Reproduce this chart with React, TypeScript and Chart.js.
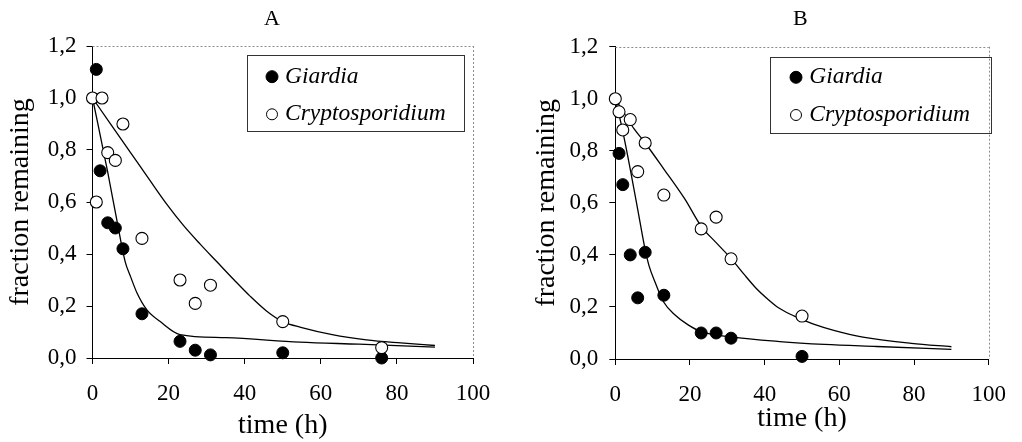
import React, { useEffect, useRef } from 'react';
import { Chart, registerables } from 'chart.js';

Chart.register(...registerables);

const SERIF = '"Liberation Serif", "Times New Roman", Times, serif';

// ---- shared axis data ----
const X_TICKS = [0, 20, 40, 60, 80, 100];
const Y_TICKS = [0, 0.2, 0.4, 0.6, 0.8, 1.0, 1.2];
const SERIES_NAMES = ['Giardia', 'Cryptosporidium'];
const X_TITLE = 'time (h)';
const Y_TITLE = 'fraction remaining';

// ---- Panel A measurements ----
const A_giardiaT = [1, 2, 4, 6, 8, 13, 23, 27, 31, 50, 76];
const A_giardiaV = [1.11, 0.72, 0.52, 0.5, 0.42, 0.17, 0.064, 0.03, 0.012, 0.02, 0.0];
const A_cryptoT = [0, 1, 2.5, 4, 6, 8, 13, 23, 27, 31, 50, 76];
const A_cryptoV = [1.0, 0.6, 1.0, 0.79, 0.76, 0.9, 0.46, 0.3, 0.21, 0.28, 0.14, 0.04];

// ---- Panel A fitted curves ----
const A_fitGiardiaT = [0, 4, 6.4, 8.6, 10, 11.7, 14.3, 17.8, 23, 35, 54.5, 70, 90];
const A_fitGiardiaV = [1.0, 0.715, 0.53, 0.37, 0.313, 0.25, 0.185, 0.14, 0.09, 0.078, 0.061, 0.053, 0.042];
const A_fitCryptoT = [0, 5, 10, 15, 19.6, 23.9, 28.3, 32.7, 37.1, 41.4, 45.8, 50, 55, 63, 72, 81, 90];
const A_fitCryptoV = [1.0, 0.895, 0.79, 0.685, 0.59, 0.51, 0.438, 0.37, 0.302, 0.238, 0.18, 0.14, 0.117, 0.09, 0.07, 0.058, 0.048];

// ---- Panel B measurements ----
const B_giardiaT = [1, 2, 4, 6, 8, 13, 23, 27, 31, 50];
const B_giardiaV = [0.79, 0.67, 0.4, 0.235, 0.41, 0.245, 0.1, 0.1, 0.08, 0.01];
const B_cryptoT = [0, 1, 2, 4, 6, 8, 13, 23, 27, 31, 50];
const B_cryptoV = [1.0, 0.95, 0.88, 0.92, 0.72, 0.83, 0.63, 0.5, 0.545, 0.385, 0.165];

// ---- Panel B fitted curves ----
const B_fitGiardiaT = [0, 2, 4, 6, 8, 9, 10.8, 12.9, 16, 19.5, 23, 31, 44, 56, 70, 90];
const B_fitGiardiaV = [1.0, 0.875, 0.73, 0.575, 0.42, 0.36, 0.29, 0.22, 0.169, 0.131, 0.105, 0.085, 0.067, 0.056, 0.048, 0.037];
const B_fitCryptoT = [0, 3, 5, 8, 13, 18.6, 23, 27, 31.2, 34.5, 37.7, 41, 43.7, 47, 50, 53.3, 58.5, 66.3, 79.3, 90];
const B_fitCryptoV = [1.0, 0.93, 0.885, 0.83, 0.73, 0.615, 0.51, 0.447, 0.383, 0.325, 0.272, 0.228, 0.197, 0.171, 0.152, 0.133, 0.11, 0.084, 0.06, 0.047];

const zip = (t: number[], v: number[]) => t.map((x, i) => ({ x, y: v[i] }));

const framePlugin = {
  id: 'paperFrame',
  beforeDatasetsDraw(chart: any) {
    const { ctx, chartArea } = chart;
    const { left, right, top, bottom } = chartArea;
    ctx.save();
    ctx.strokeStyle = '#8c8c8c';
    ctx.lineWidth = 1;
    ctx.setLineDash([2, 2]);
    ctx.beginPath();
    ctx.moveTo(left, Math.round(top) + 0.5);
    ctx.lineTo(right, Math.round(top) + 0.5);
    ctx.moveTo(Math.round(right) + 0.5, top);
    ctx.lineTo(Math.round(right) + 0.5, bottom);
    ctx.stroke();
    ctx.restore();
  },
};

const decorPlugin = {
  id: 'paperDecor',
  afterDraw(chart: any, _args: any, opts: any) {
    const { ctx } = chart;
    ctx.save();
    // panel letter
    ctx.fillStyle = '#000';
    ctx.font = `22px ${SERIF}`;
    ctx.textAlign = 'center';
    ctx.textBaseline = 'middle';
    ctx.fillText(opts.title, opts.titleX, opts.titleY);
    // legend box
    const [bx, by, bw, bh] = opts.box;
    ctx.strokeStyle = '#333';
    ctx.lineWidth = 1;
    ctx.strokeRect(Math.round(bx) + 0.5, Math.round(by) + 0.5, Math.round(bw), Math.round(bh));
    // legend items
    const items = [
      { name: SERIES_NAMES[0], fill: '#000', y: opts.rowY[0], r: 6 },
      { name: SERIES_NAMES[1], fill: '#fff', y: opts.rowY[1], r: 5.5 },
    ];
    ctx.font = `italic 23.5px ${SERIF}`;
    ctx.textAlign = 'left';
    for (const it of items) {
      ctx.beginPath();
      ctx.arc(opts.markerX, it.y, it.r, 0, Math.PI * 2);
      ctx.fillStyle = it.fill;
      ctx.fill();
      ctx.strokeStyle = '#000';
      ctx.lineWidth = 1;
      ctx.stroke();
      ctx.fillStyle = '#000';
      ctx.fillText(it.name, opts.textX, it.y);
    }
    ctx.restore();
  },
};

type PanelCfg = {
  giardiaT: number[]; giardiaV: number[]; cryptoT: number[]; cryptoV: number[];
  fitGT: number[]; fitGV: number[]; fitCT: number[]; fitCV: number[];
  padRight: number; padTop: number; yWidth: number; xHeight: number;
  yTitlePad: number; xTitlePad: number; yTickPad: number;
  title: string; titleX: number; titleY: number;
  box: number[]; markerX: number; textX: number; rowY: number[];
};

function buildConfig(p: PanelCfg): any {
  const lineStyle = {
    showLine: true, pointRadius: 0, borderColor: '#000', borderWidth: 1.3,
    cubicInterpolationMode: 'monotone', fill: false, clip: false, order: 3,
  };
  return {
    type: 'scatter',
    data: {
      datasets: [
        { label: 'fit ' + SERIES_NAMES[0], data: zip(p.fitGT, p.fitGV), ...lineStyle },
        { label: 'fit ' + SERIES_NAMES[1], data: zip(p.fitCT, p.fitCV), ...lineStyle },
        {
          label: SERIES_NAMES[0], data: zip(p.giardiaT, p.giardiaV), showLine: false,
          pointRadius: 6, pointBackgroundColor: '#000', pointBorderColor: '#000',
          pointBorderWidth: 1, clip: false, order: 2,
        },
        {
          label: SERIES_NAMES[1], data: zip(p.cryptoT, p.cryptoV), showLine: false,
          pointRadius: 6, pointBackgroundColor: '#fff', pointBorderColor: '#000',
          pointBorderWidth: 1.1, clip: false, order: 1,
        },
      ],
    },
    options: {
      responsive: false,
      animation: false,
      events: [],
      devicePixelRatio: 1,
      layout: { padding: { left: 0, right: p.padRight, top: p.padTop, bottom: 0 } },
      plugins: {
        legend: { display: false },
        tooltip: { enabled: false },
        title: { display: false },
        paperDecor: {
          title: p.title, titleX: p.titleX, titleY: p.titleY,
          box: p.box, markerX: p.markerX, textX: p.textX, rowY: p.rowY,
        },
      },
      scales: {
        x: {
          type: 'linear', min: 0, max: 100,
          afterBuildTicks: (s: any) => { s.ticks = X_TICKS.map((v) => ({ value: v })); },
          afterFit: (s: any) => { s.height = p.xHeight; },
          grid: { display: true, drawOnChartArea: false, drawTicks: true, tickLength: 6, tickColor: '#000', lineWidth: 1 },
          border: { display: true, color: '#000', width: 1 },
          ticks: {
            color: '#000', padding: 16, font: { family: SERIF, size: 23 },
            maxRotation: 0, autoSkip: false,
            callback: (v: number) => String(v),
          },
          title: {
            display: true, text: X_TITLE, color: '#000',
            font: { family: SERIF, size: 28 }, padding: { top: 0, bottom: p.xTitlePad },
          },
        },
        y: {
          type: 'linear', min: 0, max: 1.2,
          afterBuildTicks: (s: any) => { s.ticks = Y_TICKS.map((v) => ({ value: v })); },
          afterFit: (s: any) => { s.width = p.yWidth; },
          grid: { display: true, drawOnChartArea: false, drawTicks: true, tickLength: 6, tickColor: '#000', lineWidth: 1 },
          border: { display: true, color: '#000', width: 1 },
          ticks: {
            color: '#000', padding: p.yTickPad, font: { family: SERIF, size: 23 }, autoSkip: false,
            callback: (v: number) => Number(v).toFixed(1).replace('.', ','),
          },
          title: {
            display: true, text: Y_TITLE, color: '#000',
            font: { family: SERIF, size: 28 }, padding: { top: p.yTitlePad, bottom: 0 },
          },
        },
      },
    },
    plugins: [framePlugin, decorPlugin],
  };
}

const panelA: PanelCfg = {
  giardiaT: A_giardiaT, giardiaV: A_giardiaV, cryptoT: A_cryptoT, cryptoV: A_cryptoV,
  fitGT: A_fitGiardiaT, fitGV: A_fitGiardiaV, fitCT: A_fitCryptoT, fitCV: A_fitCryptoV,
  padRight: 38, padTop: 46, yWidth: 92.5, xHeight: 84,
  yTitlePad: 4, xTitlePad: 0, yTickPad: 10,
  title: 'A', titleX: 272, titleY: 19,
  box: [247, 55, 217, 76], markerX: 272, textX: 285, rowY: [76.7, 114.3],
};

const panelB: PanelCfg = {
  giardiaT: B_giardiaT, giardiaV: B_giardiaV, cryptoT: B_cryptoT, cryptoV: B_cryptoV,
  fitGT: B_fitGiardiaT, fitGV: B_fitGiardiaV, fitCT: B_fitCryptoT, fitCV: B_fitCryptoV,
  padRight: 22.7, padTop: 46.7, yWidth: 104.3, xHeight: 83,
  yTitlePad: 18.7, xTitlePad: 6.5, yTickPad: 11,
  title: 'B', titleX: 289.3, titleY: 19.3,
  box: [259, 56.7, 221, 76], markerX: 285, textX: 298.3, rowY: [77.3, 115],
};

function Panel({ cfg, left }: { cfg: PanelCfg; left: number }) {
  const ref = useRef<HTMLCanvasElement | null>(null);
  useEffect(() => {
    if (!ref.current) return;
    const chart = new Chart(ref.current, buildConfig(cfg));
    return () => chart.destroy();
  }, [cfg]);
  return (
    <canvas
      ref={ref}
      width={511}
      height={442}
      style={{ position: 'absolute', left, top: 0, width: 511, height: 442, display: 'block' }}
    />
  );
}

export default function App() {
  return (
    <div style={{ position: 'fixed', left: 0, top: 0, width: 1022, height: 442, background: '#fff' }}>
      <Panel cfg={panelA} left={0} />
      <Panel cfg={panelB} left={511} />
    </div>
  );
}
